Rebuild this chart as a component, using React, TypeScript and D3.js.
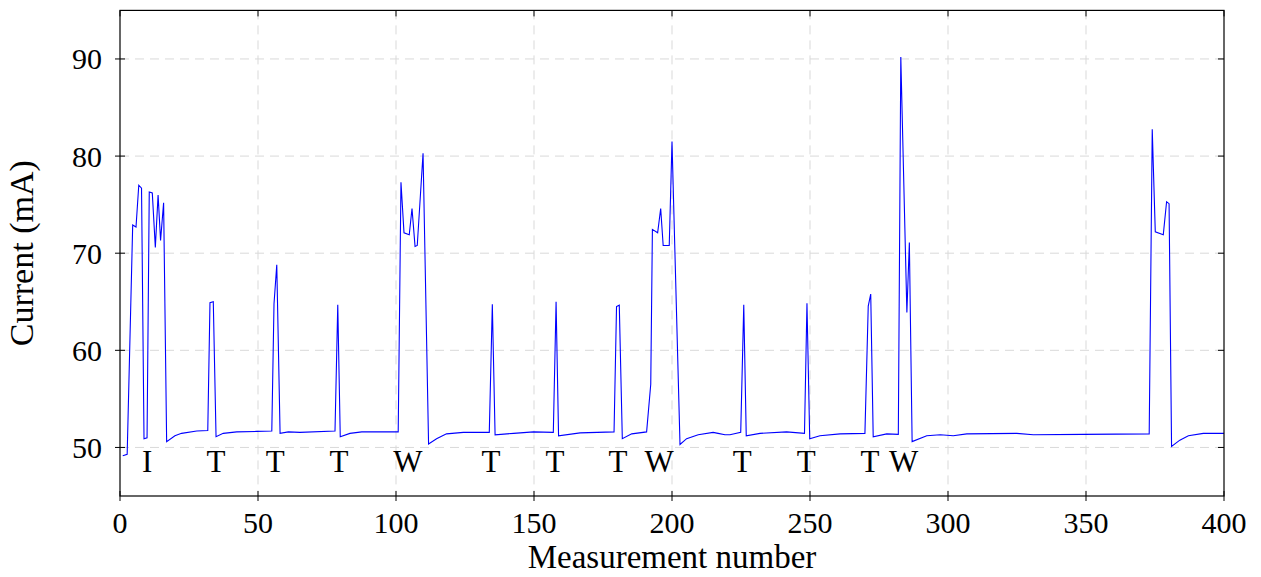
import React from "react";
import * as d3 from "d3";

const measurement: number[] = [
  1, 2.6, 4.6, 5.8, 6.8, 7.8, 8.7, 9.8, 10.6, 11.7, 12.8, 13.8, 14.7, 15.8, 16.9,
  19.9, 22.3, 27.8, 31.8, 32.6, 33.8, 34.8, 37.4, 42.3, 49.5, 55, 55.8, 56.8, 58,
  61, 65.2, 77.9, 78.9, 79.8, 83.3, 87.6, 95.5, 100.8, 101.8, 102.9, 104.8, 105.8,
  106.9, 107.7, 109.8, 111.8, 114.7, 118.3, 124.4, 133.8, 134.9, 135.9, 142.6,
  149.8, 157, 158, 158.9, 166.7, 179, 179.9, 180.9, 182, 185.4, 190.8, 192.3,
  192.9, 194.8, 195.9, 196.8, 199, 200, 202.9, 205.3, 209.5, 214.9, 216.7, 219.2,
  221, 224.9, 226, 226.9, 231.9, 241.5, 248, 248.9, 249.9, 253.6, 260.9, 269.9,
  271.1, 272, 272.9, 277.8, 282, 282.9, 285.1, 286, 287, 292.3, 297.2, 301.9,
  306.8, 324.9, 330.9, 349, 372.9, 374, 375.1, 378, 379.2, 380.1, 381, 384, 387.1,
  392.5, 400,
];

const currentMA: number[] = [
  49.15, 49.3, 72.9, 72.7, 77.0, 76.7, 50.9, 51.0, 76.3, 76.2, 70.6, 76.0, 71.3, 75.2, 50.6,
  51.2, 51.45, 51.7, 51.75, 64.9, 65.0, 51.1, 51.45, 51.6, 51.65, 51.7, 64.8, 68.8, 51.45,
  51.6, 51.55, 51.7, 64.7, 51.1, 51.45, 51.6, 51.6, 51.6, 77.3, 72.1, 71.9, 74.6,
  70.7, 70.8, 80.3, 50.35, 50.9, 51.4, 51.55, 51.55, 64.75, 51.3, 51.45,
  51.6, 51.55, 65.0, 51.2, 51.5, 51.6, 64.5, 64.65, 50.9, 51.4, 51.6, 56.5,
  72.45, 72.1, 74.6, 70.8, 70.8, 81.5, 50.3, 50.9, 51.3, 51.55, 51.45, 51.3,
  51.3, 51.55, 64.7, 51.2, 51.45, 51.6, 51.45, 64.85, 50.9, 51.2, 51.4, 51.45,
  64.55, 65.8, 51.1, 51.4, 51.35, 90.2, 63.9, 71.1, 50.6, 51.2, 51.3, 51.2,
  51.4, 51.45, 51.3, 51.35, 51.4, 82.75, 72.2, 71.9, 75.3, 75.1, 50.1, 50.75, 51.2,
  51.45, 51.45,
];

const eventLabels: string[] = ["I", "T", "T", "T", "W", "T", "T", "T", "W", "T", "T", "T", "W"];
const eventPositions: number[] = [9.8, 34.8, 56.2, 79.3, 104.3, 134.4, 157.6, 180.4, 195.3, 225.4, 248.6, 271.7, 283.9];
const eventLevel = 47.45;

const xTicks: number[] = [0, 50, 100, 150, 200, 250, 300, 350, 400];
const yTicks: number[] = [50, 60, 70, 80, 90];

const xLabel = "Measurement number";
const yLabel = "Current (mA)";

const W = 1261;
const H = 577;
const left = 120;
const right = 1224;
const top = 10.4;
const bottom = 496;

const FONT = "'Liberation Serif', 'Times New Roman', serif";

export default function App() {
  const x = d3.scaleLinear().domain([0, 400]).range([left, right]);
  const y = d3.scaleLinear().domain([45, 95]).range([bottom, top]);

  const pts: [number, number][] = measurement.map((m, i) => [m, currentMA[i]]);
  const line = d3
    .line<[number, number]>()
    .x((d) => x(d[0]))
    .y((d) => y(d[1]));

  return (
    <svg
      width={W}
      height={H}
      viewBox={`0 0 ${W} ${H}`}
      style={{ position: "absolute", left: 0, top: 0, background: "#fff" }}
    >
      <rect x={0} y={0} width={W} height={H} fill="#fff" />
      {/* grid */}
      <g stroke="#d9d9d9" strokeWidth={1} strokeDasharray="9 6">
        {xTicks
          .filter((t) => t !== 0 && t !== 400)
          .map((t) => (
            <line key={"gx" + t} x1={x(t)} x2={x(t)} y1={top} y2={bottom} />
          ))}
        {yTicks.map((t) => (
          <line key={"gy" + t} x1={left} x2={right} y1={y(t)} y2={y(t)} />
        ))}
      </g>
      {/* data line */}
      <path d={line(pts) || ""} fill="none" stroke="#0000ff" strokeWidth={1.1} strokeLinejoin="miter" />
      {/* event labels */}
      <g fontFamily={FONT} fontSize={31} fill="#000" textAnchor="middle">
        {eventLabels.map((l, i) => (
          <text key={"ev" + i} x={x(eventPositions[i])} y={y(eventLevel)}>
            {l}
          </text>
        ))}
      </g>
      {/* frame */}
      <rect x={left} y={top} width={right - left} height={bottom - top} fill="none" stroke="#000" strokeWidth={1.2} />
      {/* ticks */}
      <g stroke="#000" strokeWidth={1}>
        {xTicks.map((t) => (
          <g key={"tx" + t}>
            <line x1={x(t)} x2={x(t)} y1={bottom - 5} y2={bottom + 5} />
            <line x1={x(t)} x2={x(t)} y1={top} y2={top + 6} />
          </g>
        ))}
        {yTicks.map((t) => (
          <g key={"ty" + t}>
            <line x1={left - 5} x2={left + 5} y1={y(t)} y2={y(t)} />
            <line x1={right - 6} x2={right} y1={y(t)} y2={y(t)} />
          </g>
        ))}
      </g>
      {/* tick labels */}
      <g fontFamily={FONT} fontSize={30} fill="#000">
        {xTicks.map((t) => (
          <text key={"lx" + t} x={x(t)} y={533} textAnchor="middle">
            {t}
          </text>
        ))}
        {yTicks.map((t) => (
          <text key={"ly" + t} x={102} y={y(t) + 10.5} textAnchor="end">
            {t}
          </text>
        ))}
      </g>
      {/* axis titles */}
      <text x={(left + right) / 2} y={568} textAnchor="middle" fontFamily={FONT} fontSize={33} fill="#000">
        {xLabel}
      </text>
      <text
        transform={`translate(33, ${(top + bottom) / 2}) rotate(-90)`}
        textAnchor="middle"
        fontFamily={FONT}
        fontSize={34}
        fill="#000"
      >
        {yLabel}
      </text>
    </svg>
  );
}
